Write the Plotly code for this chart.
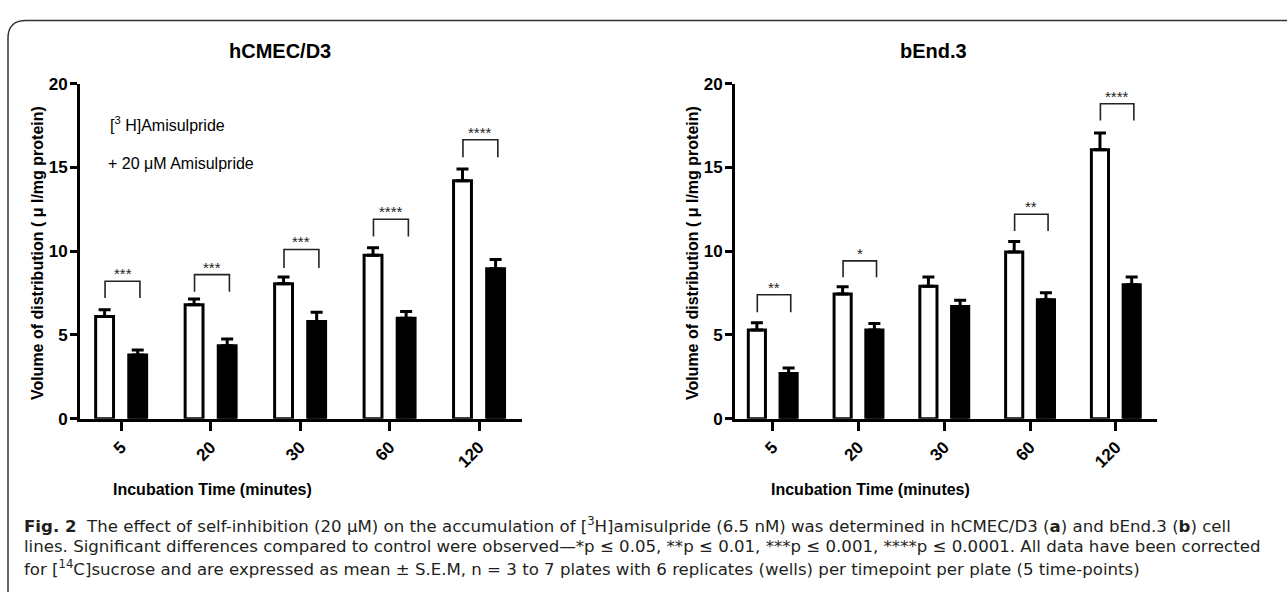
import plotly.graph_objects as go

W, H = 1287, 605

# ---------------- data ----------------
times = ["5", "20", "30", "60", "120"]

left_ctrl = [6.1, 6.8, 8.05, 9.75, 14.2]
left_ctrl_sem = [0.4, 0.35, 0.4, 0.45, 0.7]
left_inh = [3.8, 4.35, 5.8, 6.0, 8.95]
left_inh_sem = [0.3, 0.4, 0.55, 0.4, 0.55]

right_ctrl = [5.3, 7.45, 7.9, 9.95, 16.05]
right_ctrl_sem = [0.42, 0.42, 0.55, 0.62, 1.0]
right_inh = [2.7, 5.3, 6.7, 7.1, 8.0]
right_inh_sem = [0.33, 0.38, 0.37, 0.42, 0.45]

left_sig = ["***", "***", "***", "****", "****"]
left_br_top = [8.2, 8.6, 10.1, 11.9, 16.65]
left_br_bot = [7.2, 7.57, 9.0, 10.87, 15.6]

right_sig = ["**", "*", "", "**", "****"]
right_br_top = [7.4, 9.42, None, 12.2, 18.8]
right_br_bot = [6.36, 8.44, None, 11.2, 17.8]

y_ticks = [0, 5, 10, 15, 20]

# ---------------- helpers ----------------
def px(x):
    return x / W


def py(y):
    return 1 - y / H


fig = go.Figure()


def add_pair(ctrl, ctrl_sem, inh, inh_sem, xa, ya):
    fig.add_trace(go.Bar(
        x=times, y=ctrl, xaxis=xa, yaxis=ya, showlegend=False,
        marker=dict(color="white", line=dict(color="black", width=3)),
        error_y=dict(type="data", array=ctrl_sem, arrayminus=[0] * len(ctrl_sem),
                     symmetric=False, color="black", thickness=3, width=6),
    ))
    fig.add_trace(go.Bar(
        x=times, y=inh, xaxis=xa, yaxis=ya, showlegend=False,
        marker=dict(color="black", line=dict(color="black", width=3)),
        error_y=dict(type="data", array=inh_sem, arrayminus=[0] * len(inh_sem),
                     symmetric=False, color="black", thickness=3, width=6),
    ))


add_pair(left_ctrl, left_ctrl_sem, left_inh, left_inh_sem, "x", "y")
add_pair(right_ctrl, right_ctrl_sem, right_inh, right_inh_sem, "x2", "y2")

shapes = []
annotations = []


def add_brackets(sig, tops, bots, xr, yr):
    for i, (s, t, b) in enumerate(zip(sig, tops, bots)):
        if not s or t is None:
            continue
        x0, x1 = i - 0.18, i + 0.21
        shapes.append(dict(type="path", xref=xr, yref=yr,
                           path=f"M {x0},{b} L {x0},{t} L {x1},{t} L {x1},{b}",
                           line=dict(color="#222", width=1.6)))
        annotations.append(dict(x=(x0 + x1) / 2, y=t, xref=xr, yref=yr, text=s,
                                showarrow=False, xanchor="center", yanchor="bottom", yshift=-3,
                                font=dict(family="Arial, Liberation Sans", size=15, color="#222")))


add_brackets(left_sig, left_br_top, left_br_bot, "x", "y")
add_brackets(right_sig, right_br_top, right_br_bot, "x2", "y2")

bold_font = dict(family="Arial, Liberation Sans", size=17, color="black", weight="bold")

axis_common = dict(showline=True, linewidth=3, linecolor="black", ticks="outside",
                   tickwidth=3, tickcolor="black", showgrid=False, zeroline=False,
                   tickfont=bold_font)

fig.update_layout(
    width=W, height=H,
    margin=dict(l=0, r=0, t=0, b=0),
    paper_bgcolor="white", plot_bgcolor="white",
    barmode="group", bargap=0.26, bargroupgap=0.46,
    xaxis=dict(domain=[px(80), px(522)], range=[-0.46, 4.48], anchor="y",
               tickangle=-45, ticklen=9, type="category", **axis_common),
    yaxis=dict(domain=[py(423), py(77)], range=[0, 20], anchor="x", tickvals=y_ticks,
               ticklen=7, ticklabelstandoff=-1, **axis_common),
    xaxis2=dict(domain=[px(735), px(1157)], range=[-0.44, 4.48], anchor="y2",
                tickangle=-45, ticklen=9, type="category", **axis_common),
    yaxis2=dict(domain=[py(423), py(77)], range=[0, 20], anchor="x2", tickvals=y_ticks,
                ticklen=7, ticklabelstandoff=-1, **axis_common),
)

title_font = dict(family="Arial, Liberation Sans", size=20, color="black")
lab_font = dict(family="Arial, Liberation Sans", size=16, color="black")
leg_font = dict(family="Arial, Liberation Sans", size=16, color="black")
cap_font = dict(family="DejaVu Sans", size=16.6, color="#231f20")

ytitle = "<b>Volume of distribution ( μ l/mg protein)</b>"
xtitle = "<b>Incubation Time (minutes)</b>"

page_ann = [
    dict(x=px(280), y=py(43), text="<b>hCMEC/D3</b>", font=title_font),
    dict(x=px(933), y=py(43), text="<b>bEnd.3</b>", font=title_font),
    dict(x=px(37), y=py(252), text=ytitle, textangle=-90, font=lab_font),
    dict(x=px(692), y=py(252), text=ytitle, textangle=-90, font=lab_font),
    dict(x=px(212), y=py(496), text=xtitle, font=dict(lab_font, size=16)),
    dict(x=px(870), y=py(496), text=xtitle, font=dict(lab_font, size=16)),
    dict(x=px(108), y=py(119), text="[<sup>3</sup> H]Amisulpride", xanchor="left", font=leg_font),
    dict(x=px(106), y=py(159), text="+ 20 μM Amisulpride", xanchor="left", font=leg_font),
    dict(x=px(22), y=py(533), xanchor="left", font=cap_font,
         text="<b>Fig. 2</b>  The effect of self-inhibition (20 μM) on the accumulation of [<sup>3</sup>H]amisulpride (6.5 nM) was determined in hCMEC/D3 (<b>a</b>) and bEnd.3 (<b>b</b>) cell"),
    dict(x=px(22), y=py(555), xanchor="left", font=cap_font,
         text="lines. Significant differences compared to control were observed—*p ≤ 0.05, **p ≤ 0.01, ***p ≤ 0.001, ****p ≤ 0.0001. All data have been corrected"),
    dict(x=px(22), y=py(577), xanchor="left", font=cap_font,
         text="for [<sup>14</sup>C]sucrose and are expressed as mean ± S.E.M, n = 3 to 7 plates with 6 replicates (wells) per timepoint per plate (5 time-points)"),
]
for a in page_ann:
    a.setdefault("xanchor", "center")
    a.setdefault("yanchor", "middle")
    a["xref"] = "paper"
    a["yref"] = "paper"
    a["showarrow"] = False
annotations += page_ann

# rounded frame around figure
shapes.append(dict(type="path", xref="paper", yref="paper",
                   path=f"M {px(8)},{py(602)} L {px(8)},{py(30)} Q {px(8)},{py(12)} {px(26)},{py(12)} L {px(1290)},{py(12)}",
                   line=dict(color="#333", width=1.5)))

fig.update_layout(shapes=shapes, annotations=annotations)

fig.write_html("out.html")
